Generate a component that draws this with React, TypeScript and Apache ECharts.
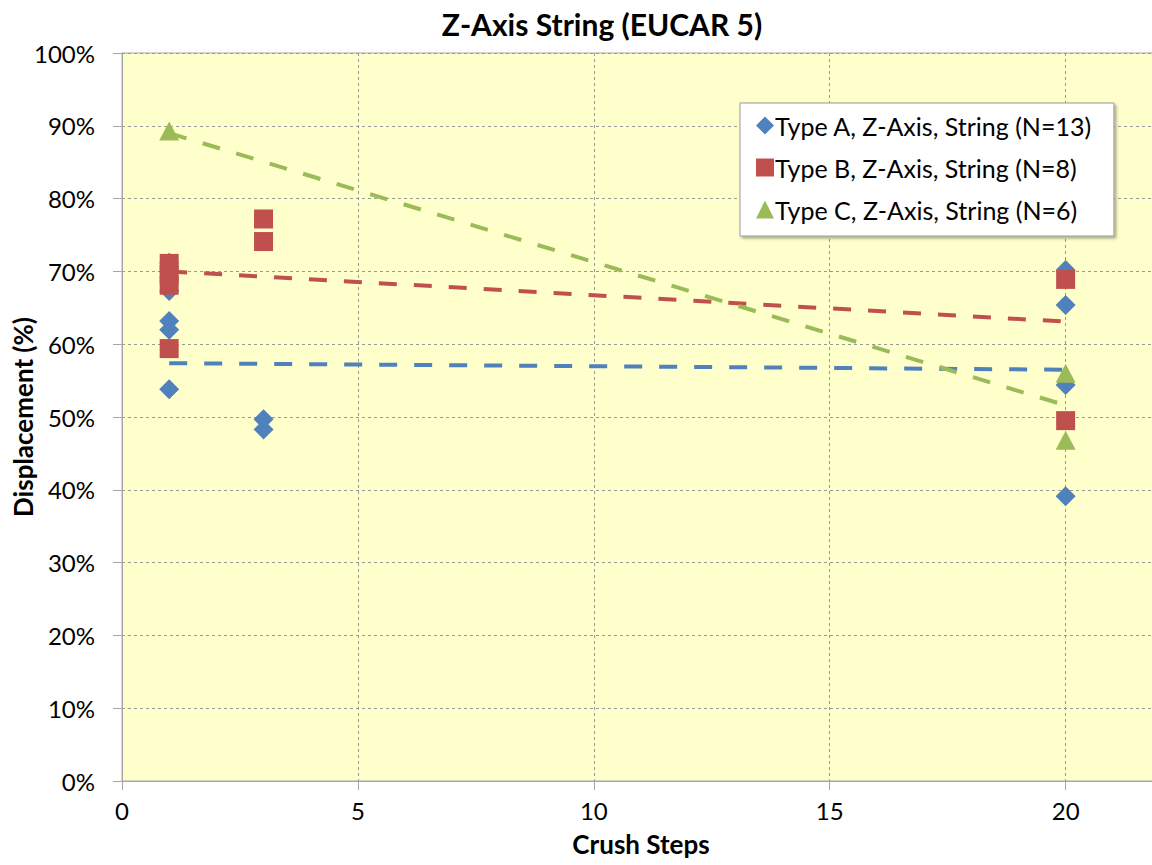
import React, { useEffect, useRef } from "react";
import * as echarts from "echarts";

const xTicks = [0, 5, 10, 15, 20];
const seriesNames = [
  "Type A, Z-Axis, String (N=13)",
  "Type B, Z-Axis, String (N=8)",
  "Type C, Z-Axis, String (N=6)",
];
const typeA: [number, number][] = [
  [1, 71.2], [1, 67.3], [1, 63.2], [1, 62.0], [1, 53.8],
  [3, 49.7], [3, 48.3],
  [20, 70.2], [20, 65.4], [20, 54.4], [20, 39.1],
];
const typeB: [number, number][] = [
  [1, 71.1], [1, 69.6], [1, 68.1], [1, 59.4],
  [3, 77.2], [3, 74.1],
  [20, 68.9], [20, 49.5],
];
const typeC: [number, number][] = [
  [1, 89.3], [20, 56.0], [20, 46.8],
];
const trendA: [number, number][] = [[1, 57.4], [20, 56.5]];
const trendB: [number, number][] = [[1, 70.0], [20, 63.1]];
const trendC: [number, number][] = [[1, 89.0], [20, 51.6]];

const colors = ["#4F81BD", "#C0504D", "#9BBB59"];
const FONT = "Lato, 'Open Sans', sans-serif";

export default function App() {
  const ref = useRef<HTMLDivElement>(null);
  useEffect(() => {
    document.body.style.margin = "0";
    const chart = echarts.init(ref.current!, null, { renderer: "svg" });
    const trend = (data: [number, number][], color: string) => ({
      type: "line",
      data,
      symbol: "none",
      silent: true,
      lineStyle: { color, width: 4, type: [18, 17] },
      z: 1,
    });
    chart.setOption({
      animation: false,
      backgroundColor: "#ffffff",
      textStyle: { fontFamily: FONT },
      title: {
        text: "Z-Axis String (EUCAR 5)",
        left: 597,
        top: 4,
        textAlign: "center",
        textStyle: { fontSize: 30, fontWeight: "bold", color: "#000", fontFamily: FONT },
      },
      grid: {
        left: 122,
        width: 1038,
        top: 53,
        bottom: 84,
        outerBoundsMode: "none",
        containLabel: false,
        show: true,
        backgroundColor: "#FFFFCC",
        borderColor: "#a6a6a6",
        borderWidth: 1,
      },
      legend: {
        orient: "vertical",
        left: 740,
        top: 103,
        padding: [10, 22, 14, 16],
        itemGap: 17,
        itemWidth: 18,
        itemHeight: 18,
        backgroundColor: "#ffffff",
        borderColor: "#999",
        borderWidth: 1,
        shadowColor: "rgba(0,0,0,0.35)",
        shadowBlur: 3,
        shadowOffsetX: 2,
        shadowOffsetY: 2,
        data: seriesNames,
        textStyle: { fontSize: 25, color: "#000", fontFamily: FONT, padding: [0, 0, 0, -4] },
      },
      xAxis: {
        type: "value",
        min: 0,
        max: 22,
        interval: 5,
        name: "Crush Steps",
        nameLocation: "middle",
        nameGap: 50,
        nameMoveOverlap: false,
        nameTextStyle: { fontSize: 26, fontWeight: "bold", color: "#000", fontFamily: FONT },
        axisLine: { show: true, lineStyle: { color: "#a6a6a6" } },
        axisTick: { show: true, length: 9, lineStyle: { color: "#a6a6a6" } },
        axisLabel: {
          fontSize: 24,
          color: "#000",
          margin: 17,
          showMaxLabel: false,
          formatter: (v: number) => (xTicks.includes(v) ? String(v) : ""),
        },
        splitLine: { show: true, lineStyle: { color: "#999", type: [3, 3], width: 1 } },
      },
      yAxis: {
        type: "value",
        min: 0,
        max: 100,
        interval: 10,
        name: "Displacement (%)",
        nameLocation: "middle",
        nameGap: 86,
        nameMoveOverlap: false,
        nameTextStyle: { fontSize: 26, fontWeight: "bold", color: "#000", fontFamily: FONT },
        axisLine: { show: true, lineStyle: { color: "#a6a6a6" } },
        axisTick: { show: true, length: 9, lineStyle: { color: "#a6a6a6" } },
        axisLabel: { fontSize: 24, color: "#000", margin: 27, formatter: "{value}%" },
        splitLine: { show: true, lineStyle: { color: "#999", type: [3, 3], width: 1 } },
      },
      series: [
        trend(trendA, colors[0]),
        trend(trendB, colors[1]),
        trend(trendC, colors[2]),
        {
          name: seriesNames[0],
          type: "scatter",
          data: typeA,
          symbol: "diamond",
          symbolSize: [20, 20],
          itemStyle: { color: colors[0], opacity: 1 },
          z: 2,
        },
        {
          name: seriesNames[1],
          type: "scatter",
          data: typeB,
          symbol: "rect",
          symbolSize: [19, 19],
          itemStyle: { color: colors[1], opacity: 1 },
          z: 3,
        },
        {
          name: seriesNames[2],
          type: "scatter",
          data: typeC,
          symbol: "triangle",
          symbolSize: [20, 19],
          itemStyle: { color: colors[2], opacity: 1 },
          z: 4,
        },
      ],
    });
    return () => chart.dispose();
  }, []);
  return <div ref={ref} style={{ width: 1152, height: 865 }} />;
}
